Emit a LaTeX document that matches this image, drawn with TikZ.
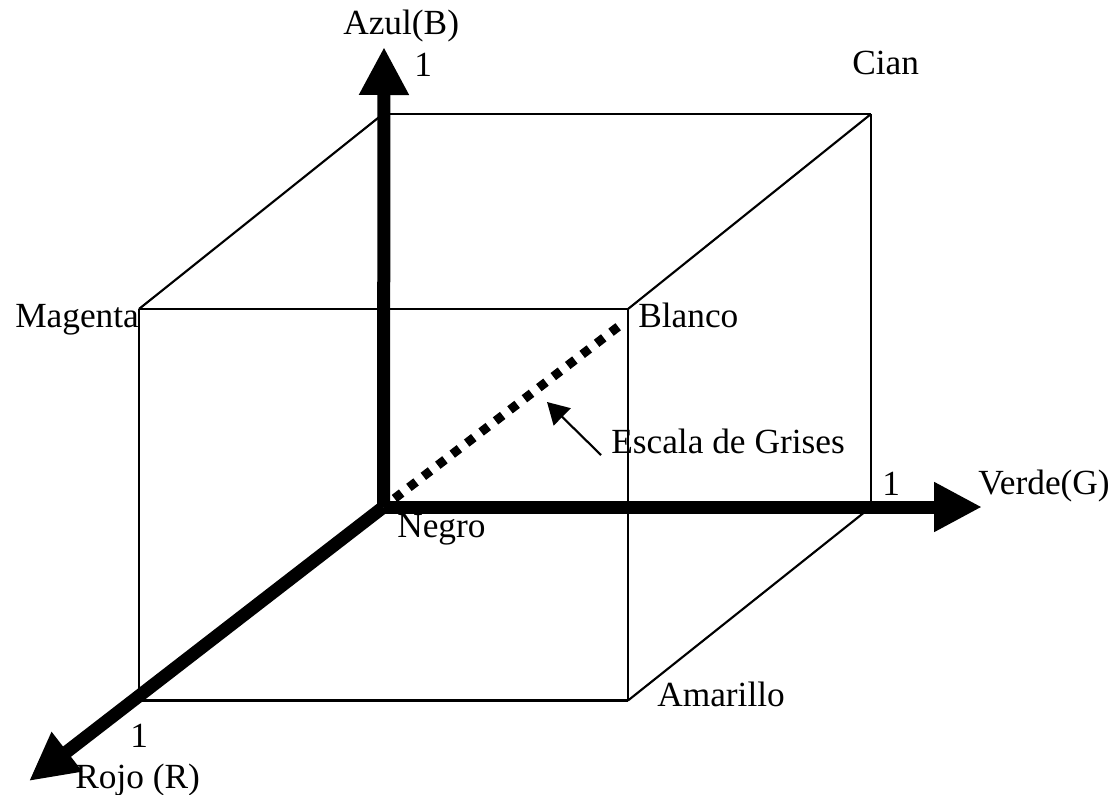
\documentclass[tikz,border=0pt]{standalone}
\usepackage{fontspec}
\setmainfont{Liberation Serif}
\usetikzlibrary{arrows.meta}
\tikzset{
  lbl/.style={anchor=base west,inner sep=0pt,font=\fontsize{26.5pt}{30pt}\selectfont},
  cubeedge/.style={line width=1.6pt},
  axisline/.style={line width=9.75pt,-{Triangle[length=36pt,width=35pt]}}
}
\begin{document}
\begin{tikzpicture}[x=0.75pt,y=-0.75pt]
\useasboundingbox (0,0) rectangle (1117,795);

\coordinate (mag) at (139,309);
\coordinate (bla) at (628,309);
\coordinate (ama) at (628,700.5);
\coordinate (roj) at (139,700.5);
\coordinate (azu) at (383,114);
\coordinate (cia) at (871,114);
\coordinate (ver) at (871,507);
\coordinate (neg) at (383.5,507);

\coordinate (azutip) at (384,47);
\coordinate (vertip) at (982,507);
\coordinate (rojtip) at (29,781);
\coordinate (grisa) at (394.5,498.5);
\coordinate (grisb) at (625,321.5);
\coordinate (esca) at (601,455);
\coordinate (escb) at (547,402);

\node[lbl] (azullbl) at (343,35) {Azul(B)};
\node[lbl] (unoz) at (414,77) {1};
\node[lbl] (cianlbl) at (852,75) {Cian};
\node[lbl] (magentalbl) at (15,327) {Magenta};
\node[lbl] (blancolbl) at (638,327) {Blanco};
\node[lbl] (escalalbl) at (611,453) {Escala de Grises};
\node[lbl] (unoy) at (882,495) {1};
\node[lbl] (verdelbl) at (978,494) {Verde(G)};
\node[lbl] (negrolbl) at (397,537) {Negro};
\node[lbl] (amarillolbl) at (657,706) {Amarillo};
\node[lbl] (unox) at (130,747) {1};
\node[lbl] (rojolbl) at (75,788) {Rojo (R)};

\draw[cubeedge] (mag)--(bla);
\draw[cubeedge] (bla)--(ama);
\draw[cubeedge] (ama)--(roj);
\draw[cubeedge] (roj)--(mag);

\draw[cubeedge] (azu)--(cia);
\draw[cubeedge] (cia)--(ver);

\draw[cubeedge] (mag)--(azu);
\draw[cubeedge] (bla)--(cia);
\draw[cubeedge] (ama)--(ver);

\draw[axisline] (neg)--(azutip);
\draw[axisline] (neg)--(vertip);
\draw[axisline] (neg)--(rojtip);

\draw[line width=6.75pt,dash pattern=on 6.75pt off 6.9pt] (grisa)--(grisb);
\draw[line width=1.6pt,-{Triangle[length=16pt,width=18pt]}] (esca)--(escb);
\end{tikzpicture}
\end{document}
